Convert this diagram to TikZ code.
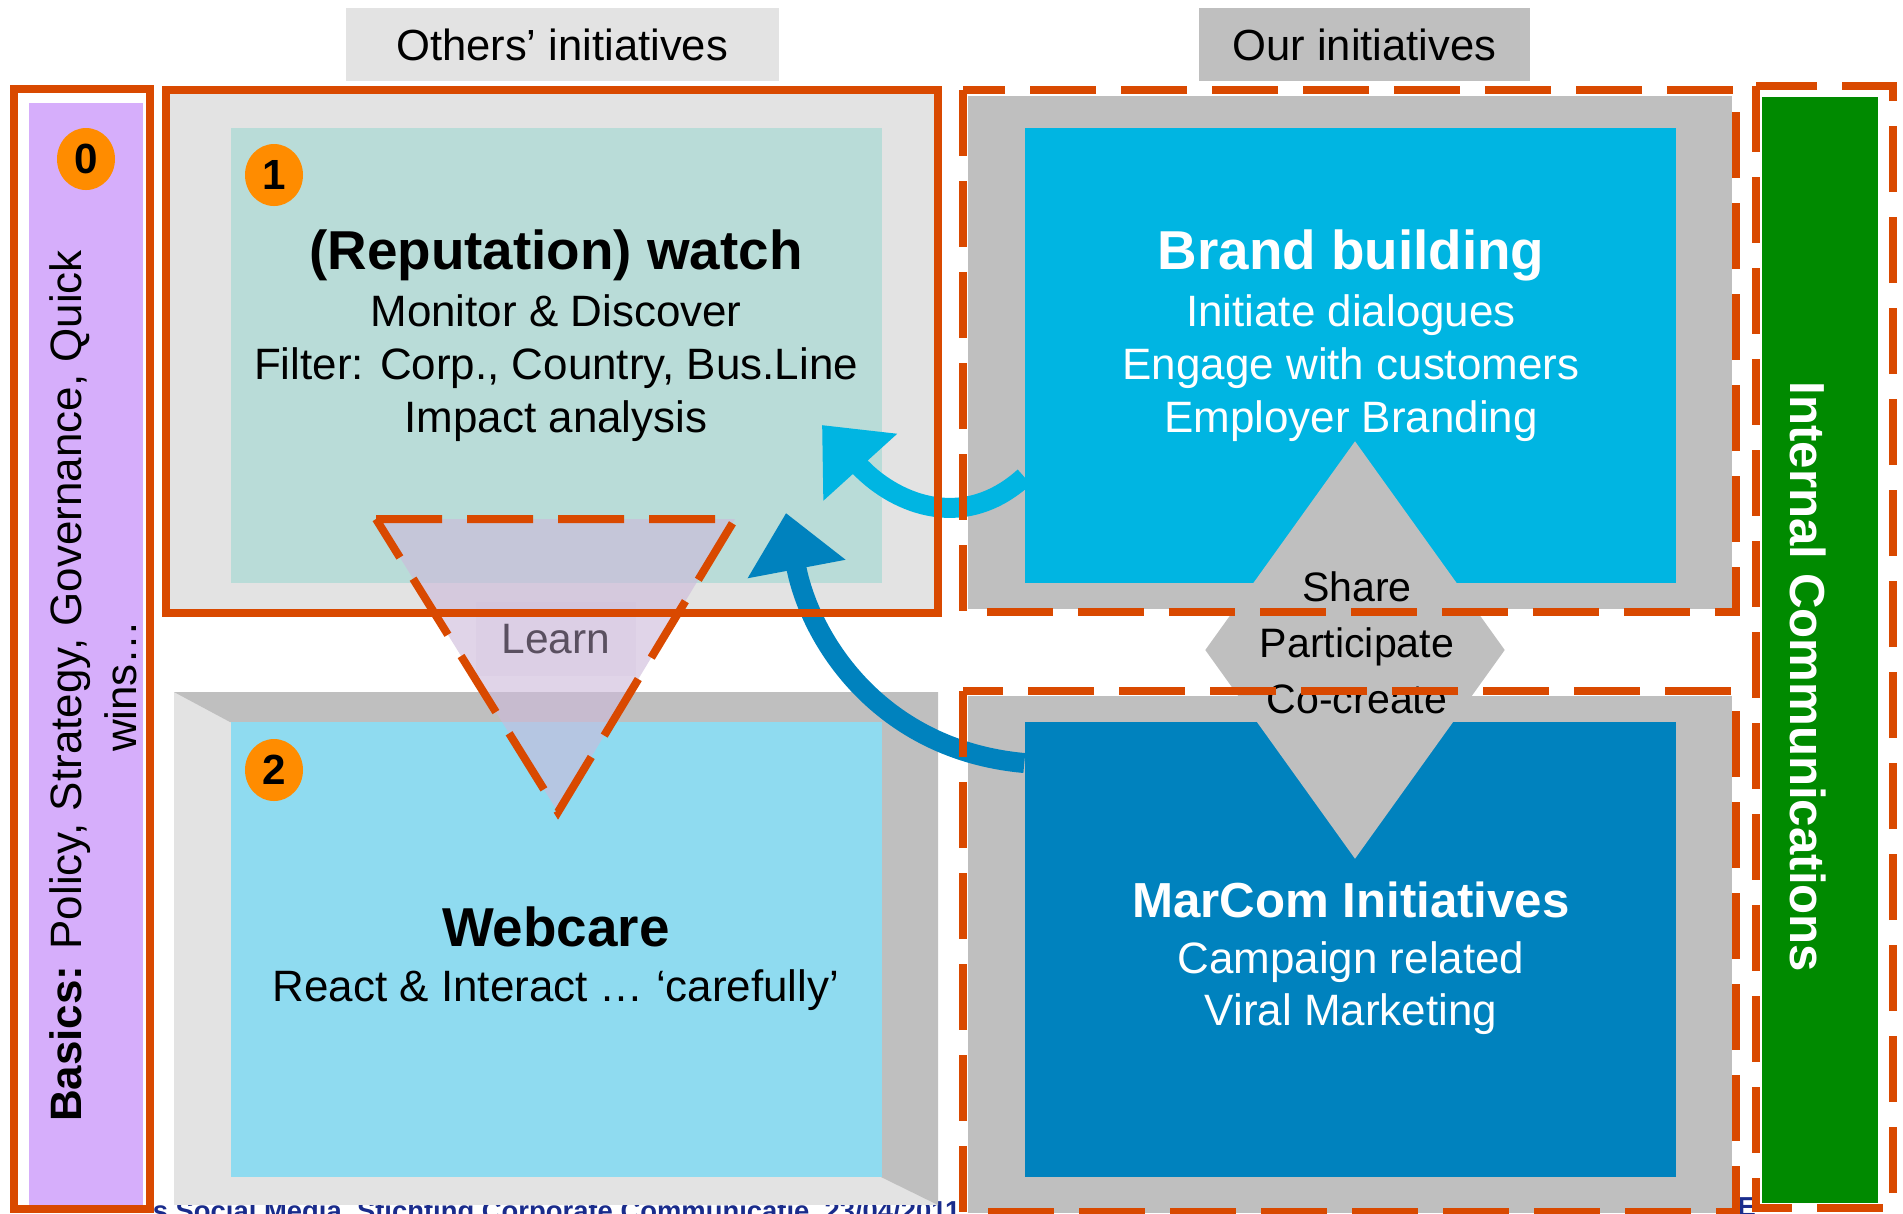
\documentclass[tikz,border=0pt]{standalone}
\usepackage{fontspec}
\setmainfont{Liberation Sans}
\usepackage{xcolor}
\usepackage{tikz}
\usetikzlibrary{shapes.geometric, arrows.meta, positioning, calc}

\definecolor{frameorange}{RGB}{217,73,0}
\definecolor{badgeorange}{RGB}{255,140,0}
\definecolor{lightgrey}{RGB}{227,227,227}
\definecolor{midgrey}{RGB}{191,191,191}
\definecolor{basicspurple}{RGB}{214,174,251}
\definecolor{watchteal}{RGB}{185,220,216}
\definecolor{carecyan}{RGB}{143,219,240}
\definecolor{brandcyan}{RGB}{0,181,226}
\definecolor{marcomblue}{RGB}{0,130,190}
\definecolor{intgreen}{RGB}{0,138,0}
\definecolor{learnlilac}{RGB}{205,186,218}
\definecolor{learntext}{RGB}{90,80,96}
\definecolor{footerblue}{RGB}{26,44,140}

\newcommand{\titlesize}{\fontsize{15.6}{18}\selectfont\bfseries}
\newcommand{\bodysize}{\fontsize{12.5}{15.1}\selectfont}

\begin{document}
\begin{tikzpicture}[
    x=0.1mm, y=-0.1mm,
    panel/.style={rectangle, inner sep=0pt, minimum width=65.1mm, minimum height=45.5mm},
    badge/.style={ellipse, fill=badgeorange, inner sep=0pt, minimum width=5.8mm, minimum height=6.2mm, font=\fontsize{12}{14}\selectfont\bfseries},
    headtag/.style={rectangle, inner sep=0pt, minimum height=7.3mm, font=\fontsize{12.4}{15}\selectfont},
    headline/.style={align=center, inner sep=0pt, font=\titlesize},
    bodytext/.style={align=center, inner sep=0pt, font=\bodysize},
    panelframe/.style={draw=frameorange, line width=0.8mm},
    dashedframe/.style={panelframe, dash pattern=on 6.6mm off 2.5mm},
    flowarrow/.style={line width=2mm, -{Triangle[length=5.7mm, width=9.6mm]}}
]
    \useasboundingbox (0,0) rectangle (1903,1213);

    % Footer (mostly hidden)
    \node[anchor=base east, inner sep=0pt, text=footerblue, font=\fontsize{7.8}{9}\selectfont\bfseries] (footer) at (961,1220) {s Social Media, Stichting Corporate Communicatie, 23/04/2011};
    \node[anchor=base west, inner sep=0pt, text=footerblue, font=\fontsize{7.8}{9}\selectfont\bfseries] (footnote) at (1737,1216) {E};

    % Column headers
    \node[headtag, fill=lightgrey, minimum width=43.3mm] (others) at (562,44.5) {Others’ initiatives};
    \node[headtag, fill=midgrey, minimum width=33.1mm] (ours) at (1364.5,44.5) {Our initiatives};

    % Basics
    \node[panel, fill=basicspurple, minimum width=11.4mm, minimum height=110.2mm] (basicsbar) at (86,654) {};
    \draw[panelframe] (14,89) rectangle (150,1209);
    \node[badge] (badge0) at (86,159) {0};
    \node[rotate=90, align=center, inner sep=0pt, font=\fontsize{12.5}{15.6}\selectfont] (basics) at (93,686) {\textbf{Basics:} Policy, Strategy, Governance, Quick\\wins…};

    % Reputation watch
    \fill[lightgrey] (166,90) rectangle (938,613);
    \node[panel, fill=watchteal] (watch) at (556,355) {};
    \node[badge] (badge1) at (274,175) {1};
    \node[headline] (watchtitle) at (556,255) {(Reputation) watch};
    \node[bodytext] (watchbody) at (556,368) {Monitor \& Discover\\Filter: Corp., Country, Bus.Line\\Impact analysis};

    % Webcare
    \fill[lightgrey] (174,692) rectangle (938,1205);
    \fill[midgrey] (174,692) -- (938,692) -- (938,1205) -- (881,1177) -- (881,722) -- (230,722) -- cycle;
    \node[panel, fill=carecyan] (webcare) at (556,949.5) {};
    \node[badge] (badge2) at (274,770) {2};
    \node[headline] (caretitle) at (556,927) {Webcare};
    \node[bodytext] (carebody) at (556,990) {React \& Interact … ‘carefully’};

    % Brand building
    \fill[midgrey] (968,96) rectangle (1732,609);
    \node[panel, fill=brandcyan] (brand) at (1350.5,355) {};

    % MarCom
    \fill[midgrey] (968,696) rectangle (1732,1213);
    \node[panel, fill=marcomblue] (marcom) at (1350.5,949.5) {};

    % Share / participate
    \node[diamond, fill=midgrey, inner sep=0pt, minimum width=30mm, minimum height=41.8mm] (exchange) at (1355,650) {};
    \node[align=center, inner sep=0pt, font=\fontsize{11.7}{16}\selectfont] (exchangetext) at (1357,643) {Share\\Participate\\Co-create};

    \node[headline, text=white] (brandtitle) at (1351,255) {Brand building};
    \node[bodytext, text=white] (brandbody) at (1351,368) {Initiate dialogues\\Engage with customers\\Employer Branding};
    \node[headline, text=white, font=\fontsize{14}{17}\selectfont\bfseries] (marcomtitle) at (1351,900) {MarCom Initiatives};
    \node[bodytext, text=white, font=\fontsize{12.5}{14.8}\selectfont] (marcombody) at (1351,988) {Campaign related\\Viral Marketing};

    % Internal communications
    \node[panel, fill=intgreen, minimum width=11.6mm, minimum height=110.6mm] (intcom) at (1820,650) {};
    \node[rotate=-90, inner sep=0pt, text=white, font=\fontsize{14}{17}\selectfont\bfseries] (intcomtext) at (1808,677) {Internal Communications};

    % Arrows
    \coordinate (brandtip) at (822,425);
    \coordinate (marcomtip) at (786,513);
    \draw[flowarrow, color=brandcyan] ([yshift=-12.2mm]brand.west) .. controls (960,535) and (890,500) .. (brandtip);
    \draw[flowarrow, color=marcomblue] ([yshift=18.65mm]marcom.west) .. controls (880,750) and (810,640) .. (marcomtip);

    % Learn
    \fill[learnlilac, fill opacity=0.62] (376,519) -- (735,519) -- (558,812) -- cycle;
    \node[fill=learnlilac, fill opacity=0.2, text opacity=1, inner sep=0pt, minimum width=16mm, minimum height=7.4mm, text=learntext, font=\fontsize{12.1}{14}\selectfont] (learn) at (556,639) {Learn};

    % Frames
    \draw[panelframe] (166,90) rectangle (938,613);
    \draw[dashedframe] (963,90) rectangle (1736,612);
    \draw[dashedframe] (963,691) rectangle (1736,1212);
    \draw[dashedframe] (1756,86) rectangle (1893,1208);
    \draw[dashedframe] (376,519) -- (735,519) -- (558,812) -- cycle;
\end{tikzpicture}
\end{document}
